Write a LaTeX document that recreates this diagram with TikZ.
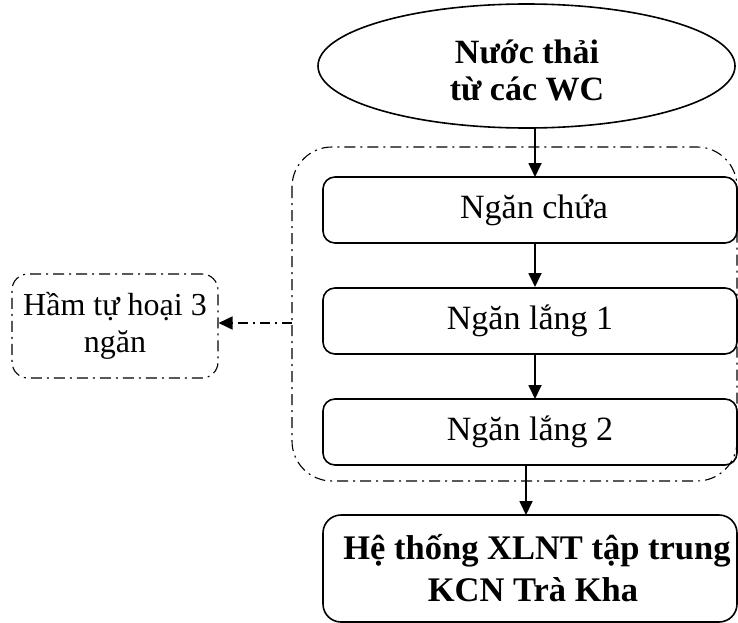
\documentclass[tikz,border=0pt]{standalone}
\usepackage{fontspec}
\setmainfont{Liberation Serif}
\usetikzlibrary{arrows.meta}
\begin{document}
\begin{tikzpicture}[x=1pt,y=-1pt,
  stagebox/.style={draw,line width=1.6pt,rounded corners=12pt,minimum width=414pt,minimum height=66pt,inner sep=0pt,font=\fontsize{34}{41}\selectfont,align=center},
  flow/.style={line width=1.8pt,-{Triangle[length=14pt,width=13pt]}},
  dashdot/.style={line width=1.1pt,dash pattern=on 11pt off 5pt on 2pt off 5pt},
]
\useasboundingbox (0,0) rectangle (738,623);
\clip (0,0) rectangle (738,623);
% source ellipse
\draw[line width=1.6pt] (526.5,66) ellipse [x radius=208.5pt, y radius=62pt];
\node[font=\bfseries\fontsize{34}{37}\selectfont,align=center] (src) at (527,70) {Nước thải\\từ các WC};
\coordinate (srcb) at (535,128);
% container
\draw[dashdot,rounded corners=40pt] (292,147) rectangle (737,481);
\coordinate (contl) at (292,323);
% stages
\node[stagebox] (s1) at (530,210) {\hspace*{8pt}Ngăn chứa};
\node[stagebox] (s2) at (530,321) {Ngăn lắng 1};
\node[stagebox] (s3) at (530,432) {Ngăn lắng 2};
\node[draw,line width=1.6pt,rounded corners=18pt,minimum width=414pt,minimum height=107pt,inner sep=0pt,font=\bfseries\fontsize{34.5}{42}\selectfont,align=center] (out) at (530,568.5) {\hspace*{14pt}Hệ thống XLNT tập trung\\\hspace*{6pt}KCN Trà Kha};
% left box
\node[draw,dashdot,rounded corners=16pt,minimum width=206pt,minimum height=104pt,inner sep=0pt,font=\fontsize{32}{37}\selectfont,align=center] (tank) at (115,326) {Hầm tự hoại 3\\ngăn};
% arrows
\draw[flow] (srcb) -- (535,177);
\draw[flow] (535,243) -- (535,287);
\draw[flow] (535,354) -- (535,399);
\draw[flow] (526,465) -- (526,515);
\draw[line width=1.8pt,dash pattern=on 10pt off 5pt on 2pt off 5pt,-{Triangle[length=14pt,width=13pt]}] (contl) -- (tank.east |- contl);
\end{tikzpicture}
\end{document}
